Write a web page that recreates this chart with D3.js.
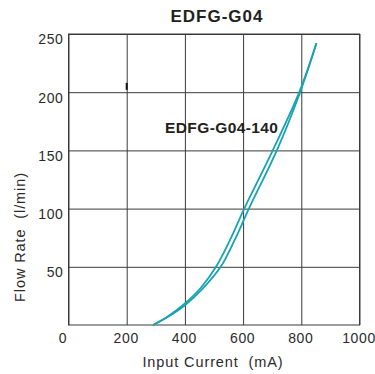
<!DOCTYPE html>
<html>
<head>
<meta charset="utf-8">
<script src="https://cdn.jsdelivr.net/npm/d3@7"></script>
<style>
  body { margin: 0; background: #fff; }
  text { font-family: "Liberation Sans", Arial, sans-serif; }
</style>
</head>
<body>
<div class="canvas"></div>
<script>
// data
const xTicks = [0, 200, 400, 600, 800, 1000];
const yTicks = [50, 100, 150, 200, 250];

// rising branch (left curve) : current mA / flow l/min
const upCurrent = [291, 345, 400, 455, 507, 556, 604, 702, 793, 852];
const upFlow    = [0, 8, 18.5, 32, 50, 73.5, 100, 150, 200, 242];
// falling branch (right curve)
const downCurrent = [291, 345, 400, 462, 523, 572, 620, 716, 796, 852];
const downFlow    = [0, 7.5, 17, 31.5, 50, 73.5, 100, 150, 200, 242];

const seriesName = 'EDFG-G04-140';

const svg = d3.select('.canvas')
    .append('svg')
    .attr('width', 375)
    .attr('height', 374);

const margin = {top: 34, right: 15.5, bottom: 49, left: 68.5};
const w = 375 - margin.left - margin.right;
const h = 374 - margin.top - margin.bottom;

const graph = svg.append('g')
    .attr('transform', `translate(${margin.left}, ${margin.top})`);

const x = d3.scaleLinear().domain([0, 1000]).range([0, w]);
const y = d3.scaleLinear().domain([0, 250]).range([h, 0]);

// grid + axes
const xAxis = d3.axisBottom(x).tickValues(xTicks).tickSize(-h).tickPadding(8)
    .tickFormat(d3.format('d'));
const yAxis = d3.axisLeft(y).tickValues(yTicks).tickSize(-w).tickPadding(5);

const xg = graph.append('g')
    .attr('transform', `translate(0, ${h})`)
    .call(xAxis);
const yg = graph.append('g').call(yAxis);

[xg, yg].forEach(g => {
    g.select('.domain').remove();
    g.selectAll('line').attr('stroke', '#3a3a3a').attr('stroke-width', 1);
    g.selectAll('text')
        .attr('fill', '#2b2b2b')
        .style('font-size', '14px')
        .style('letter-spacing', '0.6px');
});
xg.selectAll('text').attr('dx', d => d === 0 ? -6 : -1);
yg.selectAll('text').attr('dy', '0.7em');

// frame
graph.append('rect')
    .attr('width', w).attr('height', h)
    .attr('fill', 'none')
    .attr('stroke', '#3a3a3a')
    .attr('stroke-width', 1);

// small mark on the 200 line
graph.append('line')
    .attr('x1', x(200)).attr('x2', x(200))
    .attr('y1', y(208)).attr('y2', y(202))
    .attr('stroke', '#111').attr('stroke-width', 2);

// curves
const line = d3.line()
    .x(d => x(d[0]))
    .y(d => y(d[1]))
    .curve(d3.curveCatmullRom.alpha(0.5));

[[upCurrent, upFlow], [downCurrent, downFlow]].forEach(([cs, fs]) => {
    graph.append('path')
        .datum(cs.map((c, i) => [c, fs[i]]))
        .attr('fill', 'none')
        .attr('stroke', '#17a3b1')
        .attr('stroke-width', 1.8)
        .attr('d', line);
});

// labels
graph.append('text')
    .attr('x', 165 - margin.left)
    .attr('y', 132.5 - margin.top)
    .attr('font-weight', 'bold')
    .style('font-size', '15.5px')
    .style('letter-spacing', '0.4px')
    .attr('fill', '#231f20')
    .text(seriesName);

svg.append('text')
    .attr('x', 217).attr('y', 22)
    .attr('text-anchor', 'middle')
    .attr('font-weight', 'bold')
    .style('font-size', '17px')
    .style('letter-spacing', '1px')
    .attr('fill', '#231f20')
    .text('EDFG-G04');

svg.append('text')
    .attr('x', 213).attr('y', 367)
    .attr('text-anchor', 'middle')
    .style('font-size', '14.5px')
    .style('letter-spacing', '0.9px')
    .attr('fill', '#2b2b2b')
    .attr('xml:space', 'preserve')
    .text('Input Current  (mA)');

svg.append('text')
    .attr('transform', 'translate(25, 237) rotate(-90)')
    .attr('text-anchor', 'middle')
    .style('font-size', '14.5px')
    .style('letter-spacing', '0.9px')
    .attr('fill', '#2b2b2b')
    .attr('xml:space', 'preserve')
    .text('Flow Rate  (l/min)');
</script>
</body>
</html>
